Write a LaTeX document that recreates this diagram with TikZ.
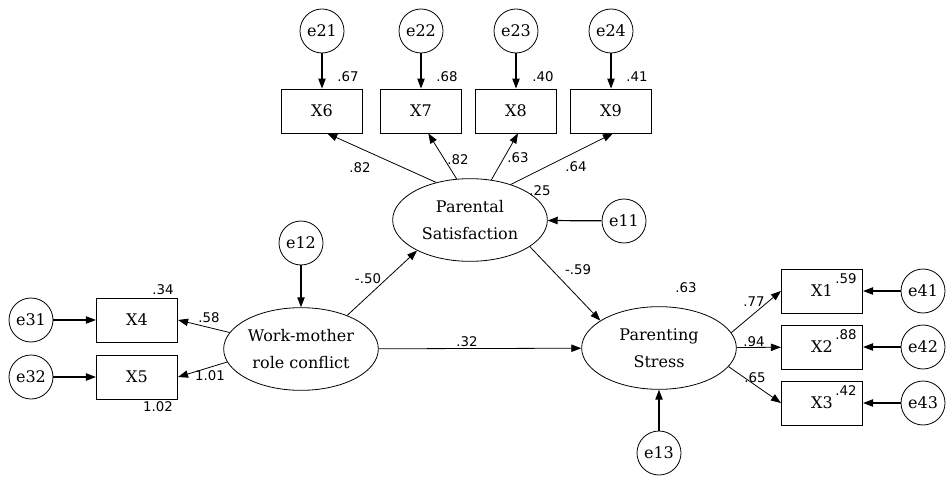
\documentclass[tikz,border=0pt]{standalone}
\usepackage{fontspec}
\setmainfont{DejaVu Serif}
\newfontfamily\lblfont{DejaVu Sans}
\usetikzlibrary{arrows.meta,shapes.geometric}

\begin{document}
\begin{tikzpicture}[x=0.75pt,y=-0.75pt,
    obs/.style={draw,line width=0.6pt,minimum width=61pt,minimum height=33pt,
      inner sep=0pt,font=\fontsize{12}{14}\selectfont},
    lat/.style={draw,line width=0.6pt,ellipse,minimum width=116pt,minimum height=62pt,
      inner sep=0pt,align=center,font=\fontsize{12}{20}\selectfont},
    err/.style={draw,line width=0.6pt,circle,minimum size=33pt,inner sep=0pt,
      font=\fontsize{12}{14}\selectfont},
    lbl/.style={inner sep=0pt,font=\lblfont\fontsize{10}{12}\selectfont},
    ar/.style={-{Triangle[length=7.5pt,width=5.5pt]},line width=0.6pt},
    ear/.style={ar,line width=0.9pt},
  ]
  \useasboundingbox (0,0) rectangle (948,477);

  % latent variables
  \node[lat](ps) at (470,220) {Parental\\Satisfaction};
  \node[lat](wm) at (301,349) {Work-mother\\role conflict};
  \node[lat](pst) at (659,348) {Parenting\\Stress};

  % indicators
  \node[obs](x6) at (322,111) {X6};
  \node[obs](x7) at (421,111) {X7};
  \node[obs](x8) at (516,111) {X8};
  \node[obs](x9) at (611,111) {X9};
  \node[obs](x4) at (137,320) {X4};
  \node[obs](x5) at (137,377) {X5};
  \node[obs](x1) at (822,291) {X1};
  \node[obs](x2) at (822,347) {X2};
  \node[obs](x3) at (822,403) {X3};

  % errors
  \node[err](e21) at (322,31) {e21};
  \node[err](e22) at (421,31) {e22};
  \node[err](e23) at (516,31) {e23};
  \node[err](e24) at (611,31) {e24};
  \node[err](e11) at (624,221) {e11};
  \node[err](e12) at (301,243) {e12};
  \node[err](e13) at (659,453) {e13};
  \node[err](e31) at (31,320) {e31};
  \node[err](e32) at (31,377) {e32};
  \node[err](e41) at (923,291) {e41};
  \node[err](e42) at (923,347) {e42};
  \node[err](e43) at (923,403) {e43};

  \draw[ear](e21)--(x6);\draw[ear](e22)--(x7);
  \draw[ear](e23)--(x8);\draw[ear](e24)--(x9);
  \draw[ear](e11)--(ps);\draw[ear](e12)--(wm);\draw[ear](e13)--(pst);
  \draw[ear](e31)--(x4);\draw[ear](e32)--(x5);
  \draw[ear](e41)--(x1);\draw[ear](e42)--(x2);\draw[ear](e43)--(x3);

  \draw[ar](ps.132)--(x6.-77);\draw[ar](ps.108)--(x7.-72);
  \draw[ar](ps.62)--(x8.-85);\draw[ar](ps.41)--(x9.-85);
  \draw[ar](wm.167)--(x4.east);\draw[ar](wm.190)--(x5.east);
  \draw[ar](pst.12)--(x1.west);\draw[ar](pst)--(x2);
  \draw[ar](pst.-15)--(x3.west);
  \draw[ar](wm.36)--(ps.210);
  \draw[ar](ps.-24)--(pst.155);
  \draw[ar](wm)--(pst);

  % estimates
  \node[lbl](r6) at (348,77) {.67};
  \node[lbl](r7) at (447,77) {.68};
  \node[lbl](r8) at (543,77) {.40};
  \node[lbl](r9) at (637,77) {.41};
  \node[lbl](l6) at (360,168) {.82};
  \node[lbl](l7) at (458,160) {.82};
  \node[lbl](l8) at (518,158) {.63};
  \node[lbl](l9) at (576,167) {.64};
  \node[lbl](rps) at (540,191) {.25};
  \node[lbl](bwp) at (368,279) {-.50};
  \node[lbl](bps) at (578,270) {-.59};
  \node[lbl](bws) at (467,342) {.32};
  \node[lbl](rst) at (686,288) {.63};
  \node[lbl](r4) at (163,290) {.34};
  \node[lbl](l4) at (209,318) {.58};
  \node[lbl](l5) at (210,376) {1.01};
  \node[lbl](r5) at (158,407) {1.02};
  \node[lbl](l1) at (754,302) {.77};
  \node[lbl](l2) at (754,342) {.94};
  \node[lbl](l3) at (755,378) {.65};
  \node[lbl](r1) at (846,279) {.59};
  \node[lbl](r2) at (846,335) {.88};
  \node[lbl](r3) at (846,391) {.42};
\end{tikzpicture}
\end{document}
